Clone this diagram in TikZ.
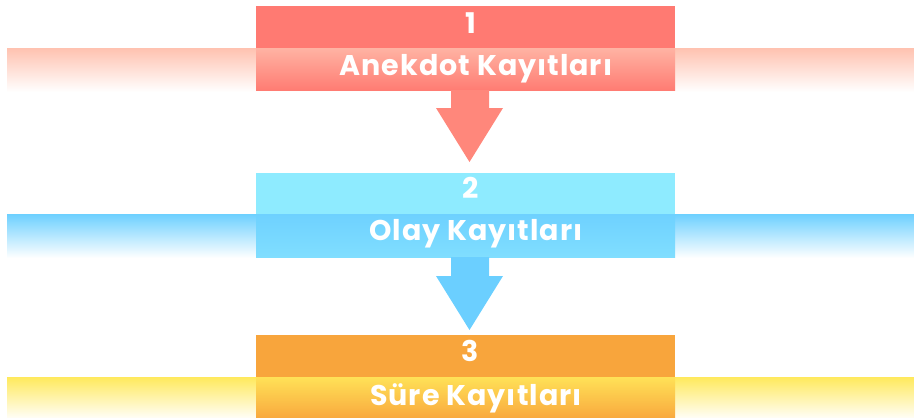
\documentclass[tikz,border=0pt]{standalone}
\usepackage{fontspec}
\setmainfont{Poppins}
\definecolor{boxA}{HTML}{FF7A72}
\definecolor{bandA}{HTML}{FFC2B0}
\definecolor{inA}{HTML}{FFB3A3}
\definecolor{inAb}{HTML}{FF7C73}
\definecolor{arrA}{HTML}{FF877B}
\definecolor{boxB}{HTML}{8EEBFF}
\definecolor{bandB}{HTML}{6DD0FF}
\definecolor{inB}{HTML}{6ED1FF}
\definecolor{inBb}{HTML}{80DEFF}
\definecolor{arrB}{HTML}{6BCFFF}
\definecolor{boxC}{HTML}{F8A53C}
\definecolor{bandC}{HTML}{FFE95C}
\definecolor{inC}{HTML}{FFE157}
\definecolor{inCb}{HTML}{F9A93E}
\tikzset{
  numtext/.style={text=white,font=\bfseries\fontsize{28.5}{30}\selectfont,anchor=base,inner sep=0pt},
  titletext/.style={text=white,font=\bfseries\fontsize{28.5}{30}\selectfont\addfontfeature{LetterSpace=3.5},anchor=base,inner sep=0pt}
}
\begin{document}
\begin{tikzpicture}[x=1pt,y=1pt]
\useasboundingbox (0,0) rectangle (914,-418);
% stage 1
\shade[top color=bandA, bottom color=white] (7,-48) rectangle (914,-92);
\fill[boxA] (256,-6) rectangle (675,-48);
\shade[top color=inA, bottom color=inAb] (256,-48) rectangle (675,-90);
\coordinate (b1) at (470,-90);
\fill[arrA] (b1) ++(-19,0) -- ++(38,0) -- ++(0,-18) -- ++(14,0) -- (469.5,-162) -- (436,-108) -- (451,-108) -- cycle;
\node[numtext] (n1) at (470.5,-33) {1};
\node[titletext] (t1) at (476,-75) {Anekdot Kayıtları};
% stage 2
\shade[top color=bandB, bottom color=white] (7,-214) rectangle (914,-258);
\fill[boxB] (256,-173) rectangle (675,-214);
\shade[top color=inB, bottom color=inBb] (256,-214) rectangle (675,-257);
\coordinate (b2) at (470,-257);
\fill[arrB] (b2) ++(-19,0) -- ++(38,0) -- ++(0,-19) -- ++(14,0) -- (469.5,-330) -- (436,-276) -- (451,-276) -- cycle;
\node[numtext] (n2) at (470.5,-198) {2};
\node[titletext] (t2) at (476,-240) {Olay Kayıtları};
% stage 3
\shade[top color=bandC, bottom color=white!95!bandC] (7,-377) rectangle (914,-418);
\fill[boxC] (256,-335) rectangle (675,-377);
\shade[top color=inC, bottom color=inCb] (256,-377) rectangle (675,-418);
\node[numtext] (n3) at (470.5,-361) {3};
\node[titletext] (t3) at (476,-405) {Süre Kayıtları};
\end{tikzpicture}
\end{document}
